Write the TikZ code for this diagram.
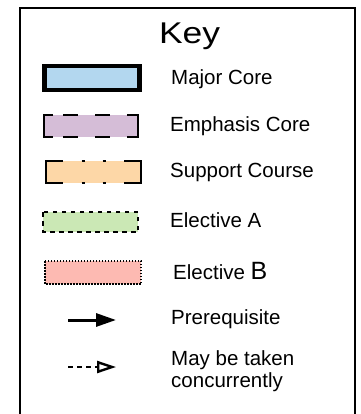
\documentclass[tikz,border=0pt]{standalone}
\usepackage{fontspec}
\setmainfont{Liberation Sans}
\usetikzlibrary{arrows.meta}
\definecolor{majorfill}{HTML}{B3D7EF}
\definecolor{emphfill}{HTML}{D5BDD7}
\definecolor{suppfill}{HTML}{FDD7A7}
\definecolor{elafill}{HTML}{CBE8B5}
\definecolor{elbfill}{HTML}{FDBAB2}
\tikzset{
  keybox/.style={line join=miter},
  brk/.style={line width=2.8pt, line join=miter},
  lbl/.style={anchor=base west, inner sep=0pt, font=\fontsize{20.5}{22}\selectfont, align=left},
}
\begin{document}
\begin{tikzpicture}[x=1pt,y=1pt]
\useasboundingbox (0,0) rectangle (360,-414);
% outer frame
\coordinate (fbl) at (20,-420);
\coordinate (ftl) at (20,-8);
\coordinate (ftr) at (355,-8);
\coordinate (fbr) at (355,-420);
\draw[line width=2pt] (fbl) -- (ftl) -- (ftr) -- (fbr);
% title
\node[inner sep=0pt, anchor=base] (title) at (189.5,-43.5) {\fontsize{30}{32}\selectfont\scalebox{1.18}[1]{Key}};
% Major core
\draw[keybox, fill=majorfill, line width=4.4pt] (44.5,-66) rectangle (139.5,-90);
% Emphasis core
\fill[emphfill] (44,-115) rectangle (138,-137);
\draw[brk] (53,-115) -- (44,-115) -- (44,-137) -- (53,-137);
\draw[brk] (127,-115) -- (138,-115) -- (138,-137) -- (127,-137);
\foreach \xa in {63,95}{
  \draw[brk] (\xa,-115) -- ++(15,0);
  \draw[brk] (\xa,-137) -- ++(15,0);
}
% Support course
\fill[suppfill] (46,-161) rectangle (141,-183);
\draw[brk] (63,-161) -- (46,-161) -- (46,-183) -- (63,-183);
\draw[brk] (124,-161) -- (141,-161) -- (141,-183) -- (124,-183);
\foreach \xa in {81.5,102.5}{
  \draw[brk] (\xa,-161) -- ++(3,0);
  \draw[brk] (\xa,-183) -- ++(3,0);
}
% Elective A
\draw[keybox, fill=elafill, line width=2.5pt, dash pattern=on 4.5pt off 4.5pt] (43,-212) rectangle (138,-232);
% Elective B
\draw[keybox, fill=elbfill, line width=1.7pt, dash pattern=on 1.5pt off 1.5pt] (45,-261) rectangle (141,-284);
% labels
\node[lbl] (lmaj) at (171,-85) {Major Core};
\node[lbl] (lemp) at (170,-131.5) {Emphasis Core};
\node[lbl] (lsup) at (170,-177.5) {Support Course};
\node[lbl] (lela) at (170,-227.5) {Elective A};
\node[lbl] (lelb) at (173,-279) {Elective {\fontsize{25}{25}\selectfont B}};
\node[lbl] (lpre) at (171,-324) {Prerequisite};
\node[lbl] (lcon) at (171,-365) {May be taken};
\node[lbl] (lcon2) at (171,-387) {concurrently};
% arrows
\coordinate (pa) at (68,-320);
\coordinate (pb) at (116,-320);
\draw[line width=3pt, -{Triangle[length=20pt,width=13pt]}] (pa) -- (pb);
\coordinate (ca) at (68,-367);
\coordinate (cb) at (116,-367);
\draw[line width=2.4pt, dash pattern=on 5pt off 4pt, -{Triangle[open,length=19pt,width=12pt,line width=2.4pt]}] (ca) -- (cb);
\end{tikzpicture}
\end{document}
